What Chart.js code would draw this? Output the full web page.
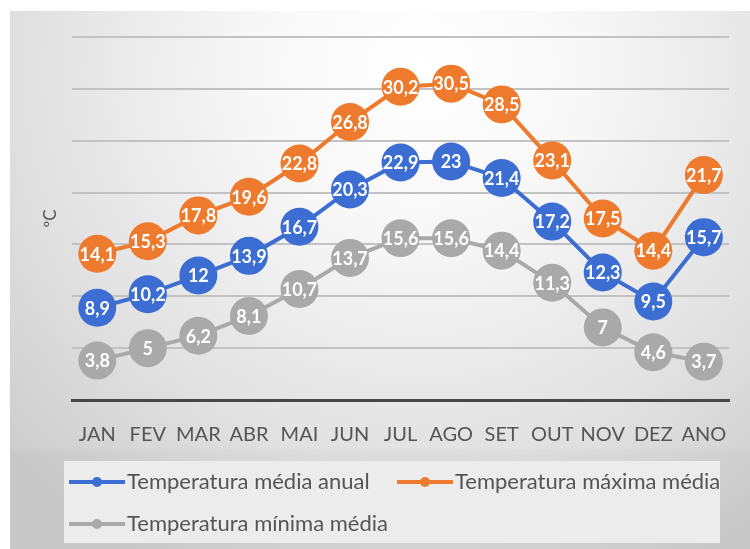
<!DOCTYPE html>
<html>
<head>
<meta charset="utf-8">
<script src="https://cdn.jsdelivr.net/npm/chart.js@4.4.1/dist/chart.umd.min.js"></script>
<style>
  html, body { margin: 0; padding: 0; background: #ffffff; }
  #wrap { width: 750px; height: 549px; }
</style>
</head>
<body>
<div id="wrap"><canvas id="chart" width="750" height="549"></canvas></div>
<script>
// Monthly temperatures (°C)
const categories = ['JAN', 'FEV', 'MAR', 'ABR', 'MAI', 'JUN', 'JUL', 'AGO', 'SET', 'OUT', 'NOV', 'DEZ', 'ANO'];
const mediaAnual = [8.9, 10.2, 12, 13.9, 16.7, 20.3, 22.9, 23, 21.4, 17.2, 12.3, 9.5, 15.7];
const maximaMedia = [14.1, 15.3, 17.8, 19.6, 22.8, 26.8, 30.2, 30.5, 28.5, 23.1, 17.5, 14.4, 21.7];
const minimaMedia = [3.8, 5, 6.2, 8.1, 10.7, 13.7, 15.6, 15.6, 14.4, 11.3, 7, 4.6, 3.7];
const seriesNames = ['Temperatura média anual', 'Temperatura máxima média', 'Temperatura mínima média'];
const axisTitle = 'ºC';
const yMin = 0, yMax = 35, yStep = 5;

const BLUE = '#3b6dd2';
const ORANGE = '#ee7b2d';
const GRAY = '#a9a9a9';
const TEXT = '#555555';
const FONT = "Lato, 'Open Sans', 'Liberation Sans', sans-serif";

const fmt = v => String(v).replace('.', ',');

// Soft card background with a lighter centre
const backgroundPlugin = {
  id: 'cardBackground',
  beforeDraw(chart) {
    const ctx = chart.ctx;
    ctx.save();
    ctx.fillStyle = '#ffffff';
    ctx.fillRect(0, 0, chart.width, chart.height);
    const g = ctx.createRadialGradient(420, 70, 0, 420, 70, 560);
    g.addColorStop(0, '#ffffff');
    g.addColorStop(0.3, '#f7f7f7');
    g.addColorStop(0.7, '#e1e1e1');
    g.addColorStop(1, '#cdcdcd');
    ctx.fillStyle = g;
    ctx.fillRect(10, 11, chart.width - 10, chart.height - 11);
    ctx.fillStyle = 'rgba(0,0,0,0.02)';
    ctx.fillRect(10, 450, chart.width - 10, chart.height - 450);
    ctx.restore();
  }
};

// White value labels centred in each marker
const valueLabelPlugin = {
  id: 'valueLabels',
  afterDatasetsDraw(chart) {
    const ctx = chart.ctx;
    ctx.save();
    ctx.font = "bold 18px " + FONT;
    ctx.fillStyle = '#ffffff';
    ctx.textAlign = 'center';
    ctx.textBaseline = 'middle';
    chart.data.datasets.forEach((ds, i) => {
      const meta = chart.getDatasetMeta(i);
      meta.data.forEach((pt, j) => {
        ctx.fillText(fmt(ds.data[j]), pt.x, pt.y + 1);
      });
    });
    ctx.restore();
  }
};

// Boxed legend below the axis
const legendBoxPlugin = {
  id: 'legendBox',
  afterDraw(chart) {
    const ctx = chart.ctx;
    ctx.save();
    ctx.fillStyle = '#ececec';
    ctx.fillRect(64, 461, 656, 82);
    const items = [
      { x: 69, y: 482, color: BLUE, text: seriesNames[0] },
      { x: 397, y: 482, color: ORANGE, text: seriesNames[1] },
      { x: 69, y: 524, color: GRAY, text: seriesNames[2] }
    ];
    ctx.font = "22px " + FONT;
    ctx.textBaseline = 'middle';
    ctx.textAlign = 'left';
    items.forEach(it => {
      ctx.strokeStyle = it.color;
      ctx.lineWidth = 4;
      ctx.beginPath();
      ctx.moveTo(it.x, it.y);
      ctx.lineTo(it.x + 56, it.y);
      ctx.stroke();
      ctx.fillStyle = it.color;
      ctx.beginPath();
      ctx.arc(it.x + 28, it.y, 5, 0, Math.PI * 2);
      ctx.fill();
      ctx.fillStyle = TEXT;
      ctx.fillText(it.text, it.x + 58, it.y);
    });
    ctx.restore();
  }
};

function seriesDataset(label, data, color) {
  return {
    label: label,
    data: data,
    borderColor: color,
    backgroundColor: color,
    borderWidth: 4,
    pointRadius: 19,
    pointHoverRadius: 19,
    pointBorderWidth: 0,
    pointBackgroundColor: color,
    tension: 0,
    clip: false
  };
}

new Chart(document.getElementById('chart'), {
  type: 'line',
  data: {
    labels: categories,
    datasets: [
      seriesDataset(seriesNames[0], mediaAnual, BLUE),
      seriesDataset(seriesNames[1], maximaMedia, ORANGE),
      seriesDataset(seriesNames[2], minimaMedia, GRAY)
    ]
  },
  options: {
    responsive: false,
    animation: false,
    events: [],
    layout: { padding: { left: 36, right: 5, top: 37, bottom: 0 } },
    plugins: { legend: { display: false }, tooltip: { enabled: false } },
    scales: {
      x: {
        offset: true,
        grid: { display: false, drawTicks: false },
        border: { display: true, color: '#474747', width: 3 },
        ticks: { color: TEXT, font: { family: FONT, size: 20 }, padding: 23, maxRotation: 0, autoSkip: false },
        afterFit(scale) { scale.height = 149; }
      },
      y: {
        min: yMin,
        max: yMax,
        ticks: { stepSize: yStep, display: false },
        grid: {
          drawTicks: false,
          lineWidth: 2,
          color: ctx => (ctx.tick && ctx.tick.value === yMin) ? 'rgba(0,0,0,0)' : '#c2c2c2'
        },
        border: { display: false },
        title: { display: true, text: axisTitle, color: TEXT, font: { family: FONT, size: 17 }, padding: 4 },
        afterFit(scale) { scale.width = 36; }
      }
    }
  },
  plugins: [backgroundPlugin, valueLabelPlugin, legendBoxPlugin]
});
</script>
</body>
</html>
